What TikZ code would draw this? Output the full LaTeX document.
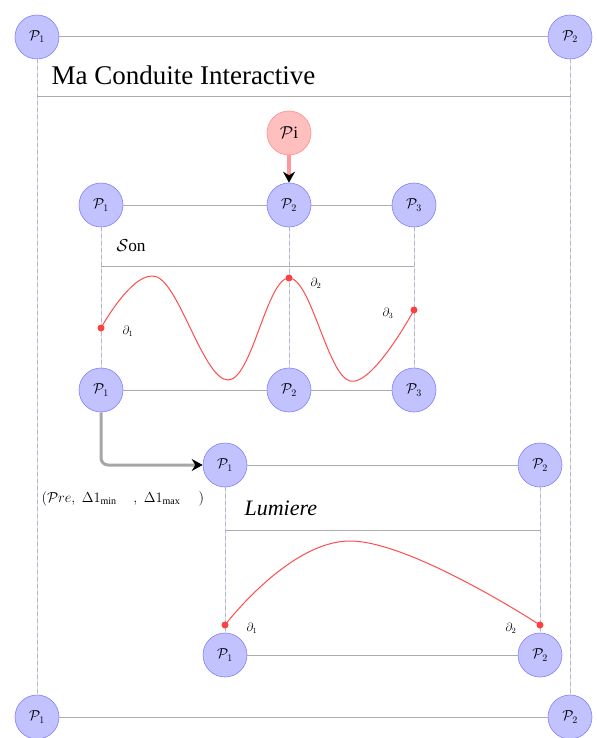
\documentclass[tikz,border=0pt]{standalone}
\usepackage{fontspec}
\setmainfont{Liberation Serif}
\usetikzlibrary{arrows.meta}
\begin{document}
\begin{tikzpicture}[x=1pt,y=-1pt,
  pnode/.style={circle,draw=blue!50,fill=blue!24,minimum size=44pt,inner sep=0pt,font=\Large,line width=0.6pt},
  pinode/.style={circle,draw=red!45,fill=red!25,minimum size=44pt,inner sep=0pt,font=\LARGE,line width=0.6pt},
  hline/.style={draw=gray!65,line width=1pt},
  vsolid/.style={draw=blue!15,line width=1pt},
  vdash/.style={draw=gray!55,line width=0.6pt,dash pattern=on 4pt off 3pt},
  curve/.style={draw=red!70,line width=1pt},
  dot/.style={circle,fill=red!75,inner sep=0pt,minimum size=7pt},
  dlab/.style={font=\large}]
\useasboundingbox (0,0) rectangle (597,738);

% outer frame
\node[pnode] (oa) at (37,37) {$\mathcal{P}_1$};
\node[pnode] (ob) at (570,37) {$\mathcal{P}_2$};
\node[pnode] (oc) at (37,717) {$\mathcal{P}_1$};
\node[pnode] (od) at (570,717) {$\mathcal{P}_2$};
\draw[hline] (oa) -- (ob);
\draw[hline] (oc) -- (od);
\draw[vsolid] (oa) -- (oc);
\draw[vdash] (oa) -- (oc);
\draw[vsolid] (ob) -- (od);
\draw[vdash] (ob) -- (od);
\coordinate (ml) at (37,97);
\coordinate (mr) at (570,97);
\draw[hline] (ml) -- (mr);
\node[anchor=base west,font=\fontsize{27}{30}\selectfont] (title) at (48,85) {Ma Conduite Interactive};

% Pi
\node[pinode] (pi) at (289,133) {$\mathcal{P}$i};

% Son block
\node[pnode] (sa) at (101,205) {$\mathcal{P}_1$};
\node[pnode] (sb) at (289,205) {$\mathcal{P}_2$};
\node[pnode] (sc) at (414,205) {$\mathcal{P}_3$};
\node[pnode] (ta) at (101,390) {$\mathcal{P}_1$};
\node[pnode] (tb) at (289,390) {$\mathcal{P}_2$};
\node[pnode] (tc) at (414,390) {$\mathcal{P}_3$};
\draw[hline] (sa) -- (sb);
\draw[hline] (sb) -- (sc);
\draw[hline] (ta) -- (tb);
\draw[hline] (tb) -- (tc);
\foreach \u/\v in {sa/ta,sb/tb,sc/tc}{
  \draw[vsolid] (\u) -- (\v);
  \draw[vdash] (\u) -- (\v);
}
\coordinate (sl) at (101,266);
\coordinate (sr) at (414,266);
\draw[hline] (sl) -- (sr);
\node[anchor=base west,font=\LARGE] (son) at (113,251) {$\mathcal{S}$on};

\draw[line width=3.5pt,red!40,-{Stealth[color=black,length=11pt,width=12pt]}] (pi) -- (sb);

\coordinate (d1) at (101,328);
\coordinate (d2) at (289,278);
\coordinate (d3) at (414,310);
\draw[curve] plot[smooth,tension=0.65] coordinates {(d1) (157,277) (228,380) (d2) (350,381) (d3)};
\node[dot] (d1n) at (d1) {};
\node[dot] (d2n) at (d2) {};
\node[dot] (d3n) at (d3) {};
\node[dlab] (d1l) at (128,331) {$\partial_1$};
\node[dlab] (d2l) at (316,283) {$\partial_2$};
\node[dlab] (d3l) at (388,313) {$\partial_3$};

% Lumiere block
\node[pnode] (la) at (225,465) {$\mathcal{P}_1$};
\node[pnode] (lb) at (540,465) {$\mathcal{P}_2$};
\node[pnode] (ma) at (225,655) {$\mathcal{P}_1$};
\node[pnode] (mb) at (540,655) {$\mathcal{P}_2$};
\draw[hline] (la) -- (lb);
\draw[hline] (ma) -- (mb);
\foreach \u/\v in {la/ma,lb/mb}{
  \draw[vsolid] (\u) -- (\v);
  \draw[vdash] (\u) -- (\v);
}
\coordinate (ll) at (225,530);
\coordinate (lr) at (540,530);
\draw[hline] (ll) -- (lr);
\node[anchor=base west,font=\fontsize{22}{26}\selectfont\itshape] (lum) at (241,515) {Lumiere};
\node[anchor=west,font=\Large] (pre) at (38,499) {$(\mathcal{P}re,\;\Delta1_{\min}\quad\,,\;\Delta1_{\max}\quad\;)$};

\draw[line width=3pt,gray!70,rounded corners=7pt,-{Stealth[color=black,length=11pt,width=12pt]}] (ta) |- (la);

\coordinate (e1) at (225,625);
\coordinate (e2) at (540,625);
\draw[curve] plot[smooth,tension=0.7] coordinates {(e1) (350,541) (e2)};
\node[dot] (e1n) at (e1) {};
\node[dot] (e2n) at (e2) {};
\node[dlab] (e1l) at (252,628) {$\partial_1$};
\node[dlab] (e2l) at (511,628) {$\partial_2$};
\end{tikzpicture}
\end{document}
